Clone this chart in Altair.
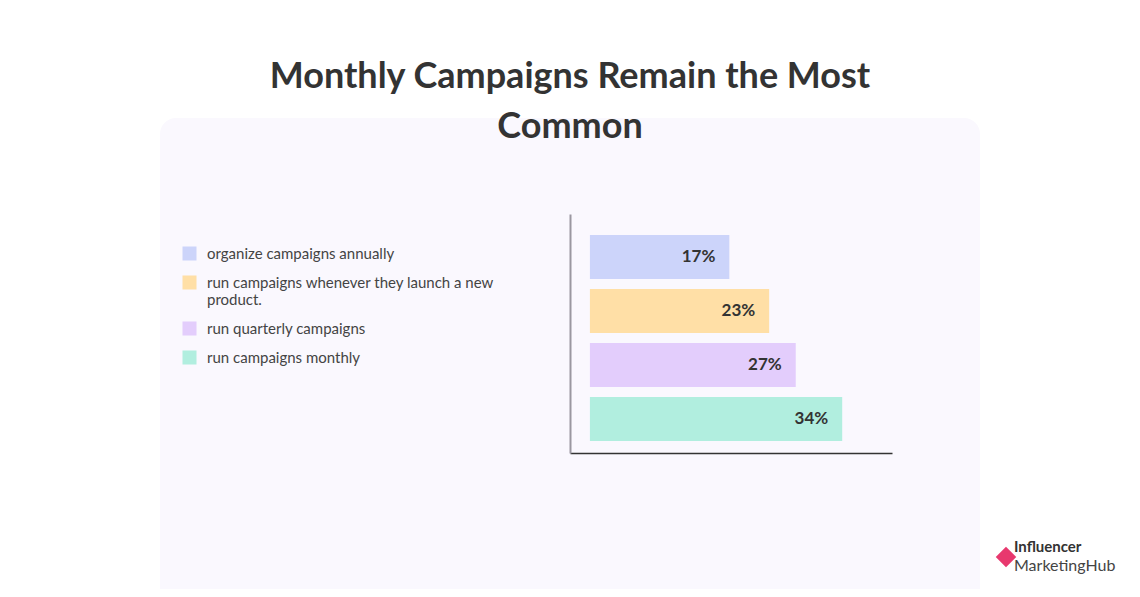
import altair as alt
import pandas as pd

categories = [
    "organize campaigns annually",
    "run campaigns whenever they launch a new product.",
    "run quarterly campaigns",
    "run campaigns monthly",
]
values = [17, 23, 27, 34]
labels = ["17%", "23%", "27%", "34%"]
colors = ["#ccd4fa", "#ffdfa6", "#e3cdfc", "#b1eedf"]

df = pd.DataFrame({"category": categories, "value": values, "label": labels})
one = pd.DataFrame({"a": [0]})

W, H = 322, 239
PAD = {"left": 562, "top": 206, "right": 240, "bottom": 136}

panel = alt.Chart(one).mark_rect(color="#faf8fe", cornerRadius=16).encode(
    x=alt.value(-410), x2=alt.value(410), y=alt.value(-96), y2=alt.value(430)
)

ysc = alt.Scale(domain=categories, paddingInner=0.185, paddingOuter=0.306, align=0.636)
xsc = alt.Scale(domain=[-7, 41.5], zero=False, nice=False)

bars = alt.Chart(df).mark_bar().encode(
    y=alt.Y("category:N", sort=categories, scale=ysc,
            axis=alt.Axis(labels=False, ticks=False, title=None, domainColor="#9a97a0",
                          domainWidth=2, zindex=1)),
    x=alt.X("value:Q", scale=xsc,
            axis=alt.Axis(labels=False, ticks=False, grid=False, title=None, domainColor="#333333",
                          domainWidth=1.5, zindex=1)),
    x2=alt.datum(-4),
    color=alt.Color("category:N", sort=categories,
                    scale=alt.Scale(domain=categories, range=colors),
                    legend=alt.Legend(
                        title=None, orient="none", legendX=-388, legendY=32,
                        symbolType="square", symbolSize=196, symbolStrokeWidth=0,
                        labelFont="Lato", labelFontSize=15, labelColor="#444444",
                        labelLimit=500, labelOffset=10, rowPadding=13, padding=0,
                        labelExpr="datum.label == 'run campaigns whenever they launch a new product.' ? ['run campaigns whenever they launch a new', 'product.'] : datum.label",
                    )),
)

text = alt.Chart(df).mark_text(align="right", dx=-14, font="Lato", fontWeight="bold",
                               fontSize=17, color="#333333").encode(
    y=alt.Y("category:N", sort=categories, scale=ysc),
    x=alt.X("value:Q", scale=xsc),
    text="label:N",
)

logo_mark = alt.Chart(one).mark_point(shape="diamond", filled=True, color="#e8386e", size=420, opacity=1).encode(
    x=alt.value(436), y=alt.value(343)
)
logo1 = alt.Chart(one).mark_text(text="Influencer", align="left", baseline="alphabetic", font="Lato",
                                 fontWeight="bold", fontSize=15, color="#333333").encode(
    x=alt.value(444), y=alt.value(338))
logo2 = alt.Chart(one).mark_text(text="MarketingHub", align="left", baseline="alphabetic", font="Lato",
                                 fontSize=16, color="#444444").encode(x=alt.value(444), y=alt.value(357))

chart = alt.layer(panel, bars, text, logo_mark, logo1, logo2).properties(
    width=W, height=H,
    padding=PAD,
    autosize=alt.AutoSizeParams(type="none"),
    background="#ffffff",
    title=alt.TitleParams(
        text=["Monthly Campaigns Remain the Most", "Common"],
        font="Lato", fontSize=36, fontWeight="bold", color="#333333",
        anchor="middle", dx=-161, lineHeight=50, offset=-28, zindex=1,
    ),
).configure_view(stroke=None)

chart.save("out.html", embed_options={"renderer": "svg", "actions": False})
